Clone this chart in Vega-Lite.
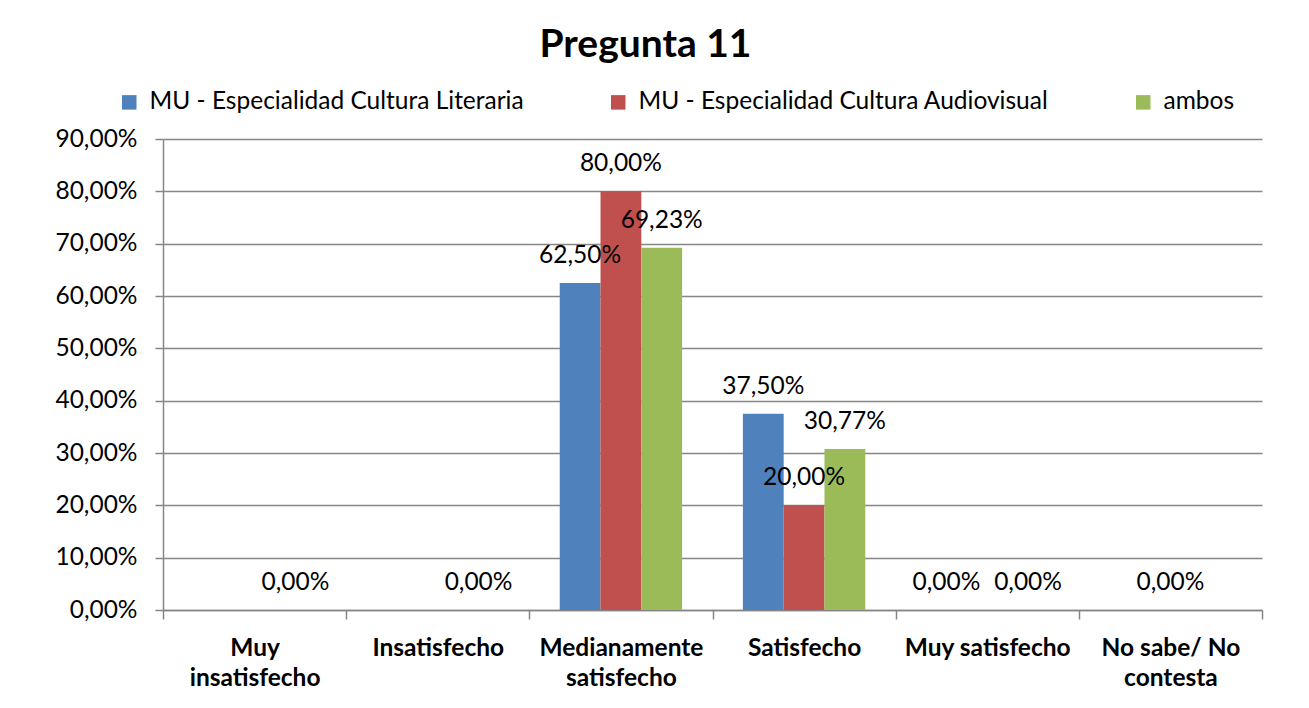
{
  "$schema": "https://vega.github.io/schema/vega-lite/v6.json",
  "width": 1099,
  "height": 471,
  "autosize": "none",
  "padding": {"left": 163, "top": 139, "right": 47, "bottom": 98},
  "background": "white",
  "title": {
    "text": "Pregunta 11",
    "font": "Lato",
    "fontSize": 39,
    "fontWeight": "bold",
    "color": "#000000",
    "anchor": "middle",
    "frame": "group",
    "offset": 25,
    "dx": -67
  },
  "data": {
    "values": [
      {"cat": "Muy insatisfecho", "serie": "MU - Especialidad Cultura Literaria", "valor": 0, "etiqueta": null},
      {"cat": "Muy insatisfecho", "serie": "MU - Especialidad Cultura Audiovisual", "valor": 0, "etiqueta": null},
      {"cat": "Muy insatisfecho", "serie": "ambos", "valor": 0, "etiqueta": "0,00%"},
      {"cat": "Insatisfecho", "serie": "MU - Especialidad Cultura Literaria", "valor": 0, "etiqueta": null},
      {"cat": "Insatisfecho", "serie": "MU - Especialidad Cultura Audiovisual", "valor": 0, "etiqueta": null},
      {"cat": "Insatisfecho", "serie": "ambos", "valor": 0, "etiqueta": "0,00%"},
      {"cat": "Medianamente satisfecho", "serie": "MU - Especialidad Cultura Literaria", "valor": 0.625, "etiqueta": "62,50%"},
      {"cat": "Medianamente satisfecho", "serie": "MU - Especialidad Cultura Audiovisual", "valor": 0.8, "etiqueta": "80,00%"},
      {"cat": "Medianamente satisfecho", "serie": "ambos", "valor": 0.6923, "etiqueta": "69,23%"},
      {"cat": "Satisfecho", "serie": "MU - Especialidad Cultura Literaria", "valor": 0.375, "etiqueta": "37,50%"},
      {"cat": "Satisfecho", "serie": "MU - Especialidad Cultura Audiovisual", "valor": 0.2, "etiqueta": "20,00%"},
      {"cat": "Satisfecho", "serie": "ambos", "valor": 0.3077, "etiqueta": "30,77%"},
      {"cat": "Muy satisfecho", "serie": "MU - Especialidad Cultura Literaria", "valor": 0, "etiqueta": "0,00%"},
      {"cat": "Muy satisfecho", "serie": "MU - Especialidad Cultura Audiovisual", "valor": 0, "etiqueta": null},
      {"cat": "Muy satisfecho", "serie": "ambos", "valor": 0, "etiqueta": "0,00%"},
      {"cat": "No sabe/ No contesta", "serie": "MU - Especialidad Cultura Literaria", "valor": 0, "etiqueta": null},
      {"cat": "No sabe/ No contesta", "serie": "MU - Especialidad Cultura Audiovisual", "valor": 0, "etiqueta": "0,00%"},
      {"cat": "No sabe/ No contesta", "serie": "ambos", "valor": 0, "etiqueta": null}
    ]
  },
  "encoding": {
    "x": {
      "field": "cat",
      "type": "nominal",
      "sort": ["Muy insatisfecho", "Insatisfecho", "Medianamente satisfecho", "Satisfecho", "Muy satisfecho", "No sabe/ No contesta"],
      "scale": {"paddingInner": 0, "paddingOuter": 0},
      "axis": {
        "title": null,
        "labelAngle": 0,
        "labelFont": "Lato",
        "labelFontSize": 24.5,
        "labelFontWeight": "bold",
        "labelColor": "#000000",
        "labelLimit": 400,
        "labelLineHeight": 30,
        "labelPadding": 17,
        "labelBaseline": "top",
        "tickBand": "extent",
        "ticks": true,
        "tickSize": 9,
        "tickColor": "#868686",
        "tickWidth": 1.5,
        "domainColor": "#868686",
        "domainWidth": 1.5,
        "grid": false,
        "labelExpr": "datum.value == 'Muy insatisfecho' ? ['Muy', 'insatisfecho'] : datum.value == 'Medianamente satisfecho' ? ['Medianamente', 'satisfecho'] : datum.value == 'No sabe/ No contesta' ? ['No sabe/ No', 'contesta'] : datum.value"
      }
    },
    "xOffset": {
      "field": "serie",
      "type": "nominal",
      "sort": ["MU - Especialidad Cultura Literaria", "MU - Especialidad Cultura Audiovisual", "ambos"],
      "scale": {"paddingInner": 0, "paddingOuter": 0.745}
    },
    "y": {
      "field": "valor",
      "type": "quantitative",
      "scale": {"domain": [0, 0.9], "nice": false},
      "axis": {
        "title": null,
        "values": [0, 0.1, 0.2, 0.3, 0.4, 0.5, 0.6, 0.7, 0.8, 0.9],
        "labelExpr": "replace(format(datum.value, '.2%'), '.', ',')",
        "labelFont": "Lato",
        "labelFontSize": 24.5,
        "labelColor": "#000000",
        "labelPadding": 18,
        "tickSize": 8,
        "tickColor": "#868686",
        "tickWidth": 1.5,
        "domainColor": "#868686",
        "domainWidth": 1.5,
        "grid": true,
        "gridColor": "#868686",
        "gridWidth": 1.5
      }
    }
  },
  "layer": [
    {
      "mark": {"type": "bar"},
      "encoding": {
        "color": {
          "field": "serie",
          "type": "nominal",
          "scale": {
            "domain": ["MU - Especialidad Cultura Literaria", "MU - Especialidad Cultura Audiovisual", "ambos"],
            "range": ["#4F81BD", "#C0504D", "#9BBB59"]
          },
          "legend": {
            "title": null,
            "orient": "none",
            "direction": "horizontal",
            "legendX": -46,
            "legendY": -49,
            "labelFont": "Lato",
            "labelFontSize": 24.5,
            "labelColor": "#000000",
            "labelOffset": 8,
            "labelLimit": 600,
            "symbolType": "square",
            "symbolSize": 210,
            "symbolStrokeWidth": 0,
            "columnPadding": 82
          }
        }
      }
    },
    {
      "transform": [{"filter": "datum.etiqueta != null"}],
      "mark": {"type": "text", "font": "Lato", "fontSize": 24.5, "color": "#000000", "baseline": "middle", "dy": -27},
      "encoding": {
        "text": {"field": "etiqueta", "type": "nominal"}
      }
    }
  ],
  "config": {
    "view": {"stroke": null}
  }
}
